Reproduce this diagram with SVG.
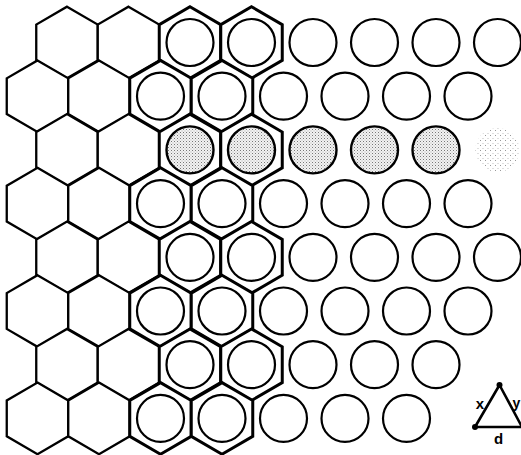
<svg xmlns="http://www.w3.org/2000/svg" xmlns:xlink="http://www.w3.org/1999/xlink" width="521" height="455" viewBox="0 0 521 455">
<style>
.hex{fill:#fff;stroke:#000;stroke-width:2.3;stroke-linejoin:miter}
.hexc{fill:#fff;stroke:#000;stroke-width:3;stroke-linejoin:miter}
.cir{fill:#fff;stroke:#000;stroke-width:2.2}
.sh{fill:url(#stip);stroke:#000;stroke-width:2.4}
.faint{fill:url(#stip2);stroke:none}
.lbl{font-family:"Liberation Sans",Arial,sans-serif;font-weight:bold;font-size:15px;fill:#000}
</style>
<defs>
<polygon id="hx" points="0,-35.8 30.75,-17.9 30.75,17.9 0,35.8 -30.75,17.9 -30.75,-17.9"/>
<pattern id="stip" width="3" height="3" patternUnits="userSpaceOnUse">
<rect width="3" height="3" fill="#f2f2f2"/>
<rect x="0" y="0" width="1" height="1" fill="#777"/>
<rect x="1.5" y="1.5" width="1" height="1" fill="#b0b0b0"/>
</pattern>
<pattern id="stip2" width="5" height="5" patternUnits="userSpaceOnUse">
<rect width="5" height="5" fill="#fff"/>
<rect x="0" y="0" width="1" height="1" fill="#999"/>
<rect x="2.5" y="3" width="1" height="1" fill="#c0c0c0"/>
</pattern>
</defs>

<!-- row 0 -->
<g id="r0h0"><use xlink:href="#hx" class="hex" x="67" y="42.5"/></g>
<g id="r0h1"><use xlink:href="#hx" class="hex" x="128.5" y="42.5"/></g>
<g id="r0h2"><use xlink:href="#hx" class="hexc" x="190" y="42.5"/><circle class="cir" cx="190" cy="42.5" r="23.5"/></g>
<g id="r0h3"><use xlink:href="#hx" class="hexc" x="251.5" y="42.5"/><circle class="cir" cx="251.5" cy="42.5" r="23.5"/></g>
<g id="r0c4"><circle class="cir" cx="313" cy="42.5" r="23.5"/></g>
<g id="r0c5"><circle class="cir" cx="374.5" cy="42.5" r="23.5"/></g>
<g id="r0c6"><circle class="cir" cx="436" cy="42.5" r="23.5"/></g>
<g id="r0c7"><circle class="cir" cx="497.5" cy="42.5" r="23.5"/></g>

<!-- row 1 -->
<g id="r1h0"><use xlink:href="#hx" class="hex" x="37.5" y="96.2"/></g>
<g id="r1h1"><use xlink:href="#hx" class="hex" x="99" y="96.2"/></g>
<g id="r1h2"><use xlink:href="#hx" class="hexc" x="160.5" y="96.2"/><circle class="cir" cx="160.5" cy="96.2" r="23.5"/></g>
<g id="r1h3"><use xlink:href="#hx" class="hexc" x="222" y="96.2"/><circle class="cir" cx="222" cy="96.2" r="23.5"/></g>
<g id="r1c4"><circle class="cir" cx="283.5" cy="96.2" r="23.5"/></g>
<g id="r1c5"><circle class="cir" cx="345" cy="96.2" r="23.5"/></g>
<g id="r1c6"><circle class="cir" cx="406.5" cy="96.2" r="23.5"/></g>
<g id="r1c7"><circle class="cir" cx="468" cy="96.2" r="23.5"/></g>

<!-- row 2 (shaded) -->
<g id="r2h0"><use xlink:href="#hx" class="hex" x="67" y="149.9"/></g>
<g id="r2h1"><use xlink:href="#hx" class="hex" x="128.5" y="149.9"/></g>
<g id="r2h2"><use xlink:href="#hx" class="hexc" x="190" y="149.9"/><circle class="sh" cx="190" cy="149.9" r="23.5"/></g>
<g id="r2h3"><use xlink:href="#hx" class="hexc" x="251.5" y="149.9"/><circle class="sh" cx="251.5" cy="149.9" r="23.5"/></g>
<g id="r2c4"><circle class="sh" cx="313" cy="149.9" r="23.5"/></g>
<g id="r2c5"><circle class="sh" cx="374.5" cy="149.9" r="23.5"/></g>
<g id="r2c6"><circle class="sh" cx="436" cy="149.9" r="23.5"/></g>
<g id="r2c7"><circle class="faint" cx="497.5" cy="149.9" r="22"/></g>

<!-- row 3 -->
<g id="r3h0"><use xlink:href="#hx" class="hex" x="37.5" y="203.6"/></g>
<g id="r3h1"><use xlink:href="#hx" class="hex" x="99" y="203.6"/></g>
<g id="r3h2"><use xlink:href="#hx" class="hexc" x="160.5" y="203.6"/><circle class="cir" cx="160.5" cy="203.6" r="23.5"/></g>
<g id="r3h3"><use xlink:href="#hx" class="hexc" x="222" y="203.6"/><circle class="cir" cx="222" cy="203.6" r="23.5"/></g>
<g id="r3c4"><circle class="cir" cx="283.5" cy="203.6" r="23.5"/></g>
<g id="r3c5"><circle class="cir" cx="345" cy="203.6" r="23.5"/></g>
<g id="r3c6"><circle class="cir" cx="406.5" cy="203.6" r="23.5"/></g>
<g id="r3c7"><circle class="cir" cx="468" cy="203.6" r="23.5"/></g>

<!-- row 4 -->
<g id="r4h0"><use xlink:href="#hx" class="hex" x="67" y="257.3"/></g>
<g id="r4h1"><use xlink:href="#hx" class="hex" x="128.5" y="257.3"/></g>
<g id="r4h2"><use xlink:href="#hx" class="hexc" x="190" y="257.3"/><circle class="cir" cx="190" cy="257.3" r="23.5"/></g>
<g id="r4h3"><use xlink:href="#hx" class="hexc" x="251.5" y="257.3"/><circle class="cir" cx="251.5" cy="257.3" r="23.5"/></g>
<g id="r4c4"><circle class="cir" cx="313" cy="257.3" r="23.5"/></g>
<g id="r4c5"><circle class="cir" cx="374.5" cy="257.3" r="23.5"/></g>
<g id="r4c6"><circle class="cir" cx="436" cy="257.3" r="23.5"/></g>
<g id="r4c7"><circle class="cir" cx="497.5" cy="257.3" r="23.5"/></g>

<!-- row 5 -->
<g id="r5h0"><use xlink:href="#hx" class="hex" x="37.5" y="311"/></g>
<g id="r5h1"><use xlink:href="#hx" class="hex" x="99" y="311"/></g>
<g id="r5h2"><use xlink:href="#hx" class="hexc" x="160.5" y="311"/><circle class="cir" cx="160.5" cy="311" r="23.5"/></g>
<g id="r5h3"><use xlink:href="#hx" class="hexc" x="222" y="311"/><circle class="cir" cx="222" cy="311" r="23.5"/></g>
<g id="r5c4"><circle class="cir" cx="283.5" cy="311" r="23.5"/></g>
<g id="r5c5"><circle class="cir" cx="345" cy="311" r="23.5"/></g>
<g id="r5c6"><circle class="cir" cx="406.5" cy="311" r="23.5"/></g>
<g id="r5c7"><circle class="cir" cx="468" cy="311" r="23.5"/></g>

<!-- row 6 -->
<g id="r6h0"><use xlink:href="#hx" class="hex" x="67" y="364.7"/></g>
<g id="r6h1"><use xlink:href="#hx" class="hex" x="128.5" y="364.7"/></g>
<g id="r6h2"><use xlink:href="#hx" class="hexc" x="190" y="364.7"/><circle class="cir" cx="190" cy="364.7" r="23.5"/></g>
<g id="r6h3"><use xlink:href="#hx" class="hexc" x="251.5" y="364.7"/><circle class="cir" cx="251.5" cy="364.7" r="23.5"/></g>
<g id="r6c4"><circle class="cir" cx="313" cy="364.7" r="23.5"/></g>
<g id="r6c5"><circle class="cir" cx="374.5" cy="364.7" r="23.5"/></g>
<g id="r6c6"><circle class="cir" cx="436" cy="364.7" r="23.5"/></g>

<!-- row 7 -->
<g id="r7h0"><use xlink:href="#hx" class="hex" x="37.5" y="418.4"/></g>
<g id="r7h1"><use xlink:href="#hx" class="hex" x="99" y="418.4"/></g>
<g id="r7h2"><use xlink:href="#hx" class="hexc" x="160.5" y="418.4"/><circle class="cir" cx="160.5" cy="418.4" r="23.5"/></g>
<g id="r7h3"><use xlink:href="#hx" class="hexc" x="222" y="418.4"/><circle class="cir" cx="222" cy="418.4" r="23.5"/></g>
<g id="r7c4"><circle class="cir" cx="283.5" cy="418.4" r="23.5"/></g>
<g id="r7c5"><circle class="cir" cx="345" cy="418.4" r="23.5"/></g>
<g id="r7c6"><circle class="cir" cx="406.5" cy="418.4" r="23.5"/></g>

<!-- legend triangle -->
<g id="legend">
<polygon points="499.5,385 475,427 522,427" fill="none" stroke="#000" stroke-width="2.6" stroke-linejoin="round"/>
<circle cx="499.5" cy="385" r="3" fill="#000"/>
<circle cx="475" cy="427" r="3" fill="#000"/>
<text class="lbl" x="480" y="409" text-anchor="middle">x</text>
<text class="lbl" x="516.5" y="408" text-anchor="middle" style="font-size:14px">y</text>
<text class="lbl" x="498.5" y="444" text-anchor="middle">d</text>
</g>
<g id="connectors"/>
</svg>
